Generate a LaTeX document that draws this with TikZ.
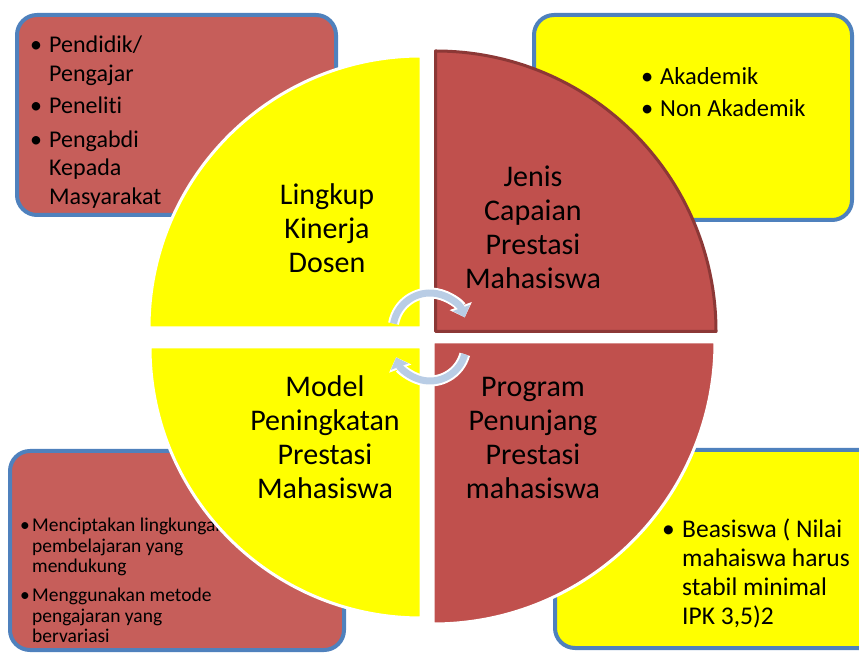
\documentclass[tikz,border=0pt]{standalone}
\usepackage{fontspec}
\setmainfont{Carlito}[Ligatures=NoCommon]
\usetikzlibrary{arrows.meta}
\definecolor{boxred}{RGB}{198,94,90}
\definecolor{quadred}{RGB}{192,80,77}
\definecolor{darkred}{RGB}{140,56,54}
\definecolor{boxblue}{RGB}{79,129,189}
\definecolor{cyc}{RGB}{185,205,229}
\definecolor{yel}{RGB}{255,255,0}
\newcommand{\bul}[1]{\makebox[#1][l]{•}}
\begin{document}
\begin{tikzpicture}[x=1pt,y=1pt,
  infobox/.style={line width=4pt, draw=boxblue, rounded corners=20pt, anchor=south west, inner sep=0pt},
  quadw/.style={line width=3pt, draw=white},
  qlabel/.style={inner sep=0pt, anchor=base, font=\fontsize{30}{34}\selectfont},
  lst/.style={inner sep=0pt, anchor=base west},
  cycw/.style={line width=11pt, white, -{Triangle[length=12pt,width=23pt]}},
  cycc/.style={line width=7pt, cyc, -{Triangle[length=10pt,width=18pt]}}]
\useasboundingbox (0,0) rectangle (859,653);
\clip (0,0) rectangle (859,653);
% boxes
\node[infobox, fill=boxred, minimum width=319pt, minimum height=200pt] (boxTL) at (15,436) {};
\node[infobox, fill=yel, minimum width=318pt, minimum height=205pt] (boxTR) at (532,431) {};
\node[infobox, fill=boxred, minimum width=334pt, minimum height=199pt] (boxBL) at (8,1) {};
\node[infobox, fill=yel, minimum width=337pt, minimum height=198pt] (boxBR) at (553,3) {};
% box texts
\node[lst, font=\fontsize{24}{28.5}\selectfont] (listTL) at (30,600)
  {\begin{tabular}[t]{@{}l@{}l@{}}\bul{19pt}&Pendidik/\\&Pengajar\\[4pt]\bul{19pt}&Peneliti\\[5pt]\bul{19pt}&Pengabdi\\&Kepada\\&Masyarakat\end{tabular}};
\node[lst, font=\fontsize{24.5}{28.5}\selectfont] (listTR) at (641,568)
  {\begin{tabular}[t]{@{}l@{}l@{}}\bul{19pt}&Akademik\\[3.5pt]\bul{19pt}&Non Akademik\end{tabular}};
\node[lst, font=\fontsize{19.5}{20.5}\selectfont] (listBL) at (20,121)
  {\begin{tabular}[t]{@{}l@{}l@{}}\bul{12pt}&Menciptakan lingkungan\\&pembelajaran yang\\&mendukung\\[8.5pt]\bul{12pt}&Menggunakan metode\\&pengajaran yang\\&bervariasi\end{tabular}};
\node[lst, font=\fontsize{25.5}{29}\selectfont] (listBR) at (662,115)
  {\begin{tabular}[t]{@{}l@{}l@{}}\bul{20pt}&Beasiswa ( Nilai\\&mahaiswa harus\\&stabil minimal\\&IPK 3,5)2\end{tabular}};
% quadrants
\path[quadw, fill=yel] (421,325) -- (149,325) arc[start angle=180, end angle=90, radius=272] -- cycle;
\path[fill=quadred, draw=darkred, line width=3pt, line join=round] (435.5,321.5) -- (716,321.5) arc[start angle=0, end angle=90, radius=280.5] -- cycle;
\path[quadw, fill=yel] (421,306) -- (150,306) arc[start angle=180, end angle=270, radius=271] -- cycle;
\path[quadw, fill=quadred] (433,311) -- (715,311) arc[start angle=0, end angle=-90, radius=282] -- cycle;
% quadrant labels
\node[qlabel] (lblTL) at (327,448) {\begin{tabular}[t]{@{}c@{}}Lingkup\\Kinerja\\Dosen\end{tabular}};
\node[qlabel] (lblTR) at (533,466) {\begin{tabular}[t]{@{}c@{}}Jenis\\Capaian\\Prestasi\\Mahasiswa\end{tabular}};
\node[qlabel] (lblBL) at (325,256) {\begin{tabular}[t]{@{}c@{}}Model\\Peningkatan\\Prestasi\\Mahasiswa\end{tabular}};
\node[qlabel] (lblBR) at (533,256) {\begin{tabular}[t]{@{}c@{}}Program\\Penunjang\\Prestasi\\mahasiswa\end{tabular}};
% cycle arrows
\coordinate (cTop) at (430,323);
\coordinate (cBot) at (430,308);
\draw[cycw] (cTop) ++(170:37) arc[start angle=170, end angle=20, radius=37];
\draw[cycc] (cTop) ++(170:37) arc[start angle=170, end angle=20, radius=37];
\draw[cycw] (cBot) ++(-15:36) arc[start angle=-15, end angle=-160, radius=36];
\draw[cycc] (cBot) ++(-15:36) arc[start angle=-15, end angle=-160, radius=36];
\end{tikzpicture}
\end{document}
